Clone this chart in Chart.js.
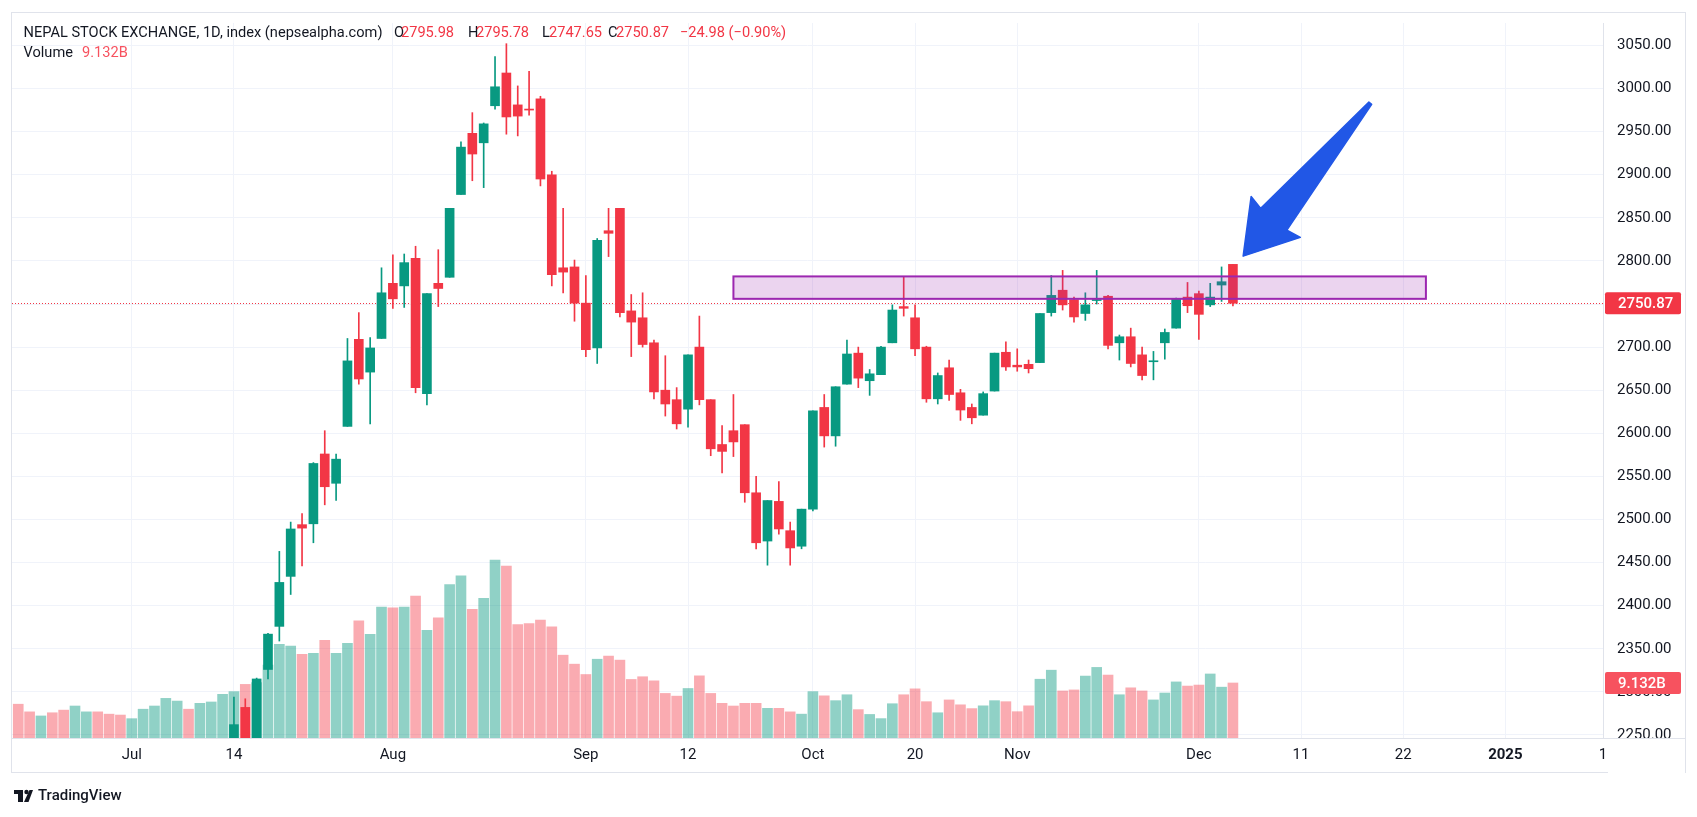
<!DOCTYPE html>
<html>
<head>
<meta charset="utf-8">
<script src="https://cdn.jsdelivr.net/npm/chart.js@4.4.1/dist/chart.umd.min.js"></script>
<style>
  html, body { margin: 0; padding: 0; background: #fff; }
  #wrap { width: 1697px; height: 817px; position: relative; }
</style>
</head>
<body>
<div id="wrap"><canvas id="chart"></canvas></div>
<script>
// daily bars, index 0 = first visible trading day (late June 2024)
// the first 19 candles sit below the visible price range, only their volume shows
const opens = [null, null, null, null, null, null, null, null, null, null,
  null, null, null, null, null, null, null, null, null,
  2235, 2282, 2238, 2326, 2376, 2434, 2494, 2495, 2576, 2542,
  2608, 2709, 2671, 2710, 2774, 2771, 2803, 2646, 2774, 2781,
  2877, 2948, 2937, 2980, 3018, 2981, 2976, 2988, 2900, 2792,
  2793, 2751, 2699, 2835, 2861, 2742, 2734, 2705, 2650, 2639,
  2628, 2700, 2639, 2587, 2603, 2610, 2531, 2475, 2521, 2487,
  2469, 2512, 2630, 2597, 2657, 2693, 2661, 2668, 2705, 2747,
  2734, 2700, 2640, 2676, 2647, 2630, 2621, 2649, 2694, 2679,
  2680, 2682, 2740, 2766, 2755, 2739, 2754, 2759, 2705, 2712,
  2691, 2683, 2705, 2722, 2758, 2762, 2749, 2772, 2795.98];
const highs = [null, null, null, null, null, null, null, null, null, null,
  null, null, null, null, null, null, null, null, null,
  2294, 2292, 2316, 2368, 2463, 2497, 2507, 2566, 2603, 2576,
  2710, 2740, 2711, 2792, 2807, 2808, 2817, 2762, 2813, 2861,
  2938, 2972, 2960, 3037, 3052, 3003, 3020, 2991, 2904, 2861,
  2801, 2783, 2826, 2861, 2861, 2761, 2763, 2708, 2690, 2653,
  2691, 2736, 2639, 2609, 2645, 2610, 2550, 2522, 2544, 2497,
  2512, 2626, 2645, 2654, 2708, 2700, 2674, 2701, 2749, 2782,
  2749, 2701, 2670, 2685, 2651, 2634, 2648, 2693, 2706, 2698,
  2685, 2739, 2783, 2789, 2758, 2763, 2789, 2760, 2714, 2722,
  2700, 2695, 2721, 2757, 2775, 2765, 2774, 2793, 2795.78];
const lows = [null, null, null, null, null, null, null, null, null, null,
  null, null, null, null, null, null, null, null, null,
  2225, 2228, 2230, 2315, 2359, 2413, 2446, 2473, 2517, 2522,
  2608, 2657, 2611, 2710, 2745, 2746, 2647, 2633, 2747, 2781,
  2877, 2893, 2885, 2976, 2947, 2945, 2969, 2887, 2771, 2763,
  2730, 2689, 2681, 2805, 2735, 2689, 2700, 2640, 2620, 2605,
  2607, 2633, 2574, 2554, 2573, 2520, 2466, 2447, 2483, 2447,
  2466, 2510, 2584, 2585, 2657, 2653, 2644, 2668, 2705, 2736,
  2690, 2636, 2634, 2638, 2615, 2611, 2621, 2649, 2673, 2672,
  2670, 2682, 2736, 2743, 2729, 2731, 2750, 2698, 2685, 2677,
  2662, 2662, 2686, 2722, 2740, 2709, 2747, 2753, 2747.65];
const closes = [null, null, null, null, null, null, null, null, null, null,
  null, null, null, null, null, null, null, null, null,
  2262, 2240, 2315, 2367, 2427, 2489, 2490, 2565, 2538, 2570,
  2684, 2663, 2699, 2763, 2756, 2798, 2653, 2762, 2768, 2861,
  2932, 2924, 2959, 3002, 2967, 2968, 2975, 2895, 2784, 2787,
  2751, 2697, 2824, 2832, 2740, 2729, 2703, 2648, 2634, 2611,
  2691, 2639, 2582, 2579, 2590, 2531, 2473, 2522, 2489, 2467,
  2512, 2626, 2597, 2654, 2692, 2664, 2669, 2700, 2743, 2745,
  2698, 2640, 2667, 2645, 2627, 2618, 2646, 2693, 2677, 2677,
  2675, 2739, 2760, 2749, 2735, 2749, 2755, 2702, 2712, 2681,
  2667, 2684, 2717, 2756, 2748, 2738, 2758, 2775.85, 2750.87];
// volume in billions
const volumes = [5.61, 4.34, 3.66, 4.19, 4.63, 5.31, 4.34, 4.34, 3.96, 3.81,
  3.21, 4.78, 5.31, 6.58, 6.13, 4.78, 5.76, 5.98, 7.25, 7.70,
  8.90, 9.19, 12.11, 15.55, 15.25, 13.90, 14.05, 16.22, 14.05, 15.70,
  19.44, 17.19, 21.75, 21.60, 21.75, 23.55, 17.87, 19.96, 25.49, 26.91,
  21.38, 23.17, 29.53, 28.55, 18.84, 18.99, 19.58, 18.46, 13.75, 12.26,
  10.54, 13.08, 13.60, 12.93, 9.72, 10.17, 9.49, 7.40, 6.95, 8.22,
  10.32, 7.40, 5.76, 5.31, 5.76, 5.76, 4.93, 4.93, 4.34, 3.96,
  7.70, 7.00, 6.20, 7.18, 4.71, 3.91, 3.22, 5.69, 7.18, 8.16,
  6.03, 4.19, 6.32, 5.51, 4.88, 5.34, 6.20, 6.03, 4.37, 5.34,
  9.76, 11.26, 7.81, 7.98, 10.28, 11.72, 10.45, 7.18, 8.33, 7.81,
  6.32, 7.47, 9.31, 8.62, 8.79, 10.63, 8.44, 9.132];
// direction of the hidden early candles (from their volume colour)
const hiddenUp = [false, false, true, false, false, true, true, false, false, false,
  true, true, true, true, true, false, true, true, true];

// time axis labels (bar index -> text)
const tickPos = [10, 19, 33, 50, 59, 70, 79, 88, 104, 113, 122, 131, 139.6];
const tickText = ["Jul", "14", "Aug", "Sep", "12", "Oct", "20", "Nov", "Dec", "11", "22", "2025", "1"];

// drawings
const zoneX = [63, 124];
const zoneY = [2756, 2782];
const arrowTail = [119.1, 2983];
const arrowTip = [107.9, 2805.5];

const UP = "#089981";
const DOWN = "#F23645";
const FONT = "Roboto, 'Noto Sans', sans-serif";
const last = closes.length - 1;

function isUp(i) {
  if (opens[i] == null) return hiddenUp[i];
  return closes[i] >= opens[i];
}

const idx = volumes.map((_, i) => i);
const shown = idx.filter(i => opens[i] != null);

const frame = {
  id: "frame",
  beforeDraw(chart) {
    const ctx = chart.ctx;
    ctx.save();
    ctx.fillStyle = "#fff";
    ctx.fillRect(0, 0, chart.width, chart.height);
    ctx.strokeStyle = "#e0e3eb";
    ctx.lineWidth = 1;
    ctx.strokeRect(11.5, 12.5, 1674, 760);
    ctx.restore();
  },
  beforeDatasetsDraw(chart) {
    const ctx = chart.ctx, a = chart.chartArea;
    const y = Math.round(chart.scales.y.getPixelForValue(closes[last])) + 0.5;
    ctx.save();
    ctx.strokeStyle = DOWN;
    ctx.lineWidth = 1;
    ctx.setLineDash([1, 2]);
    ctx.beginPath();
    ctx.moveTo(a.left, y);
    ctx.lineTo(a.right, y);
    ctx.stroke();
    ctx.restore();
  },
  afterDatasetsDraw(chart) {
    const ctx = chart.ctx, xs = chart.scales.x, ys = chart.scales.y;
    ctx.save();
    // resistance zone
    const x1 = xs.getPixelForValue(zoneX[0]), x2 = xs.getPixelForValue(zoneX[1]);
    const y1 = ys.getPixelForValue(zoneY[1]), y2 = ys.getPixelForValue(zoneY[0]);
    ctx.fillStyle = "rgba(156, 39, 176, 0.2)";
    ctx.fillRect(x1, y1, x2 - x1, y2 - y1);
    ctx.strokeStyle = "#9C27B0";
    ctx.lineWidth = 2;
    ctx.strokeRect(x1, y1, x2 - x1, y2 - y1);

    // arrow: wedge shaft from a thin tail, notched head
    const tx = xs.getPixelForValue(arrowTail[0]), ty = ys.getPixelForValue(arrowTail[1]);
    const px = xs.getPixelForValue(arrowTip[0]), py = ys.getPixelForValue(arrowTip[1]);
    const len = Math.hypot(px - tx, py - ty);
    const ux = (px - tx) / len, uy = (py - ty) / len;
    const nx = -uy, ny = ux;
    const pt = (d, w) => [px - ux * d + nx * w, py - uy * d + ny * w];
    const poly = [
      [tx + nx * 1.8, ty + ny * 1.8],
      pt(48, 17),
      pt(51, 32),
      [px, py],
      pt(51, -32),
      pt(48, -17),
      [tx - nx * 1.8, ty - ny * 1.8]
    ];
    ctx.fillStyle = "#2157E6";
    ctx.strokeStyle = "#2157E6";
    ctx.lineJoin = "round";
    ctx.lineWidth = 1.5;
    ctx.beginPath();
    poly.forEach((p, i) => i ? ctx.lineTo(p[0], p[1]) : ctx.moveTo(p[0], p[1]));
    ctx.closePath();
    ctx.fill();
    ctx.stroke();
    ctx.restore();
  },
  afterDraw(chart) {
    const ctx = chart.ctx, a = chart.chartArea;
    ctx.save();
    ctx.textBaseline = "middle";

    // the price scale is cut off where the time scale starts
    ctx.fillStyle = "#fff";
    ctx.fillRect(a.right + 5, a.bottom + 1, 1685 - a.right - 5, 34);
    ctx.strokeStyle = "#e0e3eb";
    ctx.lineWidth = 1;
    ctx.beginPath();
    ctx.moveTo(a.right, Math.round(a.bottom) + 0.5);
    ctx.lineTo(1686, Math.round(a.bottom) + 0.5);
    ctx.stroke();

    // price and volume labels on the right scale
    const boxes = [
      [chart.scales.y.getPixelForValue(closes[last]), closes[last].toFixed(2), DOWN],
      [chart.scales.yv.getPixelForValue(volumes[last]), volumes[last].toFixed(3) + "B", "#F7525F"]
    ];
    boxes.forEach(([y, t, c]) => {
      ctx.fillStyle = c;
      ctx.beginPath();
      ctx.roundRect(a.right + 2, y - 11, 76, 22, 2);
      ctx.fill();
      ctx.fillStyle = "#fff";
      ctx.font = "500 15px " + FONT;
      ctx.fillText(t, 1618, y + 1);
    });

    // legend header
    const o = opens[last], h = highs[last], l = lows[last], c = closes[last];
    const chg = c - closes[last - 1];
    const pct = chg / closes[last - 1] * 100;
    const sgn = v => (v < 0 ? "\u2212" : "+") + Math.abs(v).toFixed(2);
    const dark = "#131722";
    ctx.font = "14.6px " + FONT;
    const parts = [
      ["NEPAL STOCK EXCHANGE, 1D, index (nepsealpha.com)", 23.5, dark],
      ["O", 394, dark], [o.toFixed(2), 401, DOWN],
      ["H", 468, dark], [h.toFixed(2), 476, DOWN],
      ["L", 542, dark], [l.toFixed(2), 549, DOWN],
      ["C", 608, dark], [c.toFixed(2), 616, DOWN],
      [sgn(chg) + " (" + sgn(pct) + "%)", 680, DOWN]
    ];
    parts.forEach(([t, x, col]) => { ctx.fillStyle = col; ctx.fillText(t, x, 33); });
    ctx.fillStyle = dark;
    ctx.fillText("Volume", 23.5, 53);
    ctx.fillStyle = "#F7525F";
    ctx.fillText(volumes[last].toFixed(3) + "B", 82, 53);

    // footer logo
    ctx.fillStyle = dark;
    ctx.fillRect(14, 790, 9, 4);
    ctx.fillRect(18, 790, 5, 12);
    ctx.beginPath();
    ctx.arc(26.5, 792, 2.2, 0, Math.PI * 2);
    ctx.fill();
    ctx.beginPath();
    ctx.moveTo(24, 802); ctx.lineTo(28.5, 802); ctx.lineTo(33, 790); ctx.lineTo(29.5, 790);
    ctx.closePath();
    ctx.fill();
    ctx.font = "500 15px " + FONT;
    ctx.fillText("TradingView", 38, 796);
    ctx.restore();
  }
};

new Chart(document.getElementById("chart"), {
  type: "bar",
  data: {
    datasets: [
      {
        label: "Volume",
        data: idx.map(i => ({ x: i, y: volumes[i] })),
        backgroundColor: idx.map(i => isUp(i) ? "rgba(8, 153, 129, 0.45)" : "rgba(242, 54, 69, 0.42)"),
        yAxisID: "yv",
        barThickness: 10,
        order: 3
      },
      {
        label: "Wick",
        data: shown.map(i => ({ x: i, y: [lows[i], highs[i]] })),
        backgroundColor: shown.map(i => isUp(i) ? UP : DOWN),
        yAxisID: "y",
        barThickness: 1,
        order: 2
      },
      {
        label: "Body",
        data: shown.map(i => ({ x: i, y: [opens[i], closes[i]] })),
        backgroundColor: shown.map(i => isUp(i) ? UP : DOWN),
        yAxisID: "y",
        barThickness: 9,
        minBarLength: 1,
        order: 1
      }
    ]
  },
  options: {
    responsive: true,
    maintainAspectRatio: false,
    animation: false,
    datasets: { bar: { grouped: false } },
    layout: { padding: { left: 12, top: 13, right: 11, bottom: 44 } },
    plugins: {
      legend: { display: false },
      tooltip: { enabled: false }
    },
    scales: {
      x: {
        type: "linear",
        offset: false,
        min: -0.55,
        max: 139.6,
        afterBuildTicks(scale) {
          scale.ticks = tickPos.map(v => ({ value: v }));
        },
        afterFit(scale) { scale.height = 35; },
        grid: { color: "#f0f3fa", drawTicks: false, offset: false },
        border: { color: "#e0e3eb" },
        ticks: {
          autoSkip: false,
          maxRotation: 0,
          padding: 8,
          color: "#131722",
          font: ctx => ({ family: FONT, size: 15, weight: ctx.index === 11 ? "bold" : "normal" }),
          callback: (value, i) => tickText[i]
        }
      },
      y: {
        position: "right",
        min: 2246.5,
        max: 3076,
        afterFit(scale) { scale.width = 83; },
        grid: { color: "#f0f3fa", drawTicks: false },
        border: { color: "#e0e3eb" },
        ticks: {
          stepSize: 50,
          includeBounds: false,
          padding: 14,
          color: "#131722",
          font: { family: FONT, size: 15 },
          callback: v => v.toFixed(2)
        }
      },
      yv: {
        display: false,
        min: 0,
        max: 118.7
      }
    }
  },
  plugins: [frame]
});
</script>
</body>
</html>
